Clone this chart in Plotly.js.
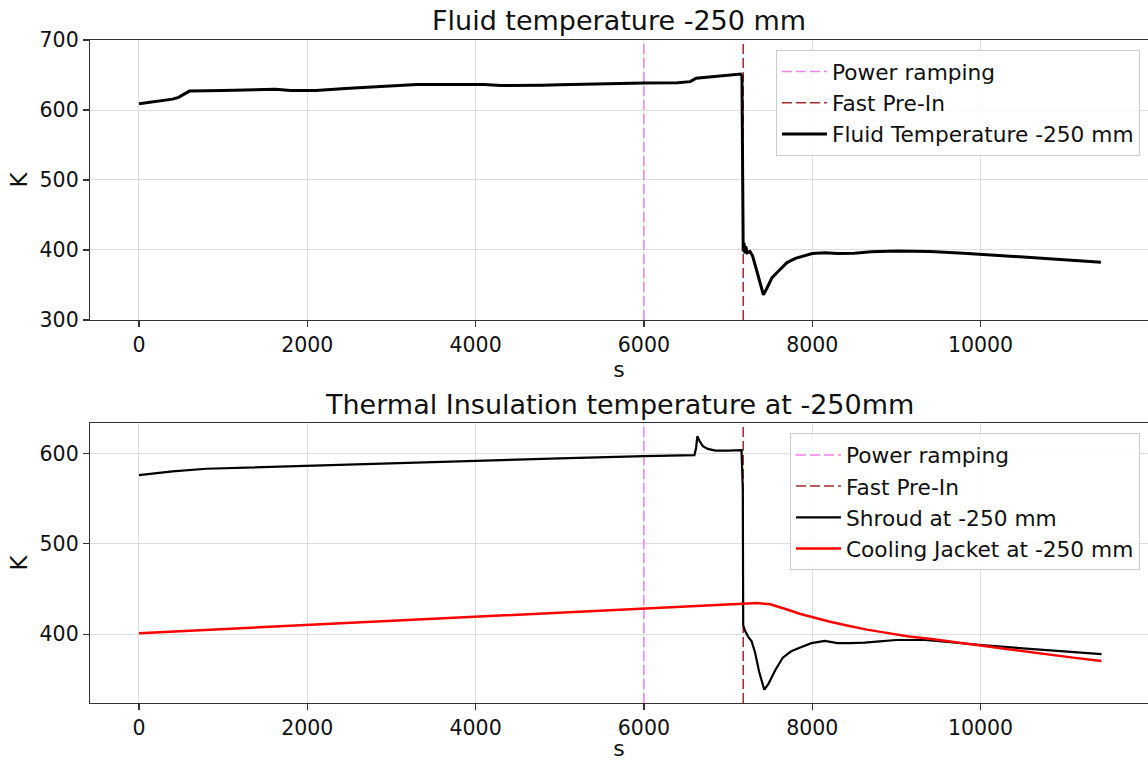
<!DOCTYPE html>
<html><head><meta charset="utf-8">
<script src="https://cdn.plot.ly/plotly-3.0.1.min.js"></script>
<style>html,body{margin:0;padding:0;overflow:hidden;background:#fff}</style>
</head><body><div id="chart" style="width:1148px;height:761px"></div>
<script>
// ---- data ----
const fluidTime = [0,200,400,470,600,1000,1500,1620,1800,2100,2500,3000,3300,3700,4100,4300,4500,4800,5000,5500,6000,6400,6550,6620,6800,7000,7150,7165,7175,7180,7190,7200,7210,7230,7260,7290,7330,7380,7420,7460,7520,7600,7700,7800,7900,8000,8150,8300,8500,8700,9000,9400,9800,10000,10400,10800,11100,11430];
const fluidTemp = [609,612,615.5,618,627,628,628.5,629.5,628,628,631,634.5,636.5,636.5,636.5,635,634.8,635.5,636,637.5,638.5,639,640.5,645.5,647.5,649.5,651.5,649,420,398,410,395,405,396,398,392,375,352,336,345,360,370,382,388,392,395,396,395,395.5,397.5,398.5,398,395.5,394,390.5,387.5,385,382.5];

const shroudTime = [0,200,400,800,1500,2000,3000,4000,5000,6000,6600,6620,6635,6660,6700,6760,6850,7000,7160,7175,7180,7200,7240,7280,7320,7370,7430,7480,7560,7650,7750,7850,7990,8150,8300,8450,8625,8800,9000,9340,9700,10012,10400,10805,11100,11438];
const shroudTemp = [576,578,580,583,585,586,589,591.5,594.5,597,598,606,619,614,608,605,603,603,603.5,560,410,404,397,392,380,358,338.5,345,360,374,381,385,390,392.5,390,390,390.5,392,393.5,393.5,391,388,385,382,380,377.8];

const jacketTime = [0,1000,2000,3000,4000,5000,6000,7000,7200,7350,7500,7600,7710,7850,8003,8200,8426,8650,8902,9150,9417,9700,10012,10400,10805,11100,11438];
const jacketTemp = [401,405.5,410,414.5,419.5,424,428.5,433,434,434.5,433,430.5,427,422.5,418.6,414,409.3,405,401.1,397.5,394.5,391,387.1,382.5,377.8,374,370.4];

const eventNames = ['Power ramping','Fast Pre-In'];
const eventTimes = [6000, 7180];
const eventColors = ['#ee82ee','#a52a2a'];

const xTicks = [0,2000,4000,6000,8000,10000];
const topYTicks = [300,400,500,600,700];
const bottomYTicks = [400,500,600];
const topYRange = [300,700];
const bottomYRange = [323.8,633.6];
const xRange = [-582, 11990];

const titles = ['Fluid temperature -250 mm','Thermal Insulation temperature at -250mm'];

// ---- traces ----
const traces = [];
[['x','y','legend',topYRange],['x2','y2','legend2',bottomYRange]].forEach(([xa,ya,lg,yr])=>{
  eventTimes.forEach((t,i)=>{
    traces.push({x:[t,t], y:yr, xaxis:xa, yaxis:ya, mode:'lines', name:eventNames[i], legend:lg,
      line:{color:eventColors[i], width:1.5, dash:'10px,4px'}, hoverinfo:'skip'});
  });
});
traces.push({x:fluidTime, y:fluidTemp, xaxis:'x', yaxis:'y', mode:'lines', name:'Fluid Temperature -250 mm', legend:'legend', line:{color:'#000', width:3}});
traces.push({x:shroudTime, y:shroudTemp, xaxis:'x2', yaxis:'y2', mode:'lines', name:'Shroud at -250 mm', legend:'legend2', line:{color:'#000', width:2.2}});
traces.push({x:jacketTime, y:jacketTemp, xaxis:'x2', yaxis:'y2', mode:'lines', name:'Cooling Jacket at -250 mm', legend:'legend2', line:{color:'#ff0000', width:2.5}});

const F = 'DejaVu Sans, sans-serif';
function xax(anchor){
  return {anchor:anchor, domain:[0,1], range:xRange, tickvals:xTicks, ticktext:xTicks.map(String),
    showgrid:true, gridcolor:'#dedede', gridwidth:1, zeroline:false,
    showline:true, linecolor:'#333', linewidth:1.2, mirror:true,
    ticks:'outside', ticklen:6, tickcolor:'#333', tickwidth:1.2,
    tickfont:{size:20.5, color:'#111', family:F},
    title:{text:'s', font:{size:22, color:'#111', family:F}, standoff:3}};
}
function yax(anchor, dom, rng, tv){
  return {anchor:anchor, domain:dom, range:rng, tickvals:tv, ticktext:tv.map(String),
    showgrid:true, gridcolor:'#dedede', gridwidth:1, zeroline:false,
    showline:true, linecolor:'#333', linewidth:1.2, mirror:false,
    ticks:'outside', ticklen:6, tickcolor:'#333', tickwidth:1.2,
    tickfont:{size:20.5, color:'#111', family:F},
    title:{text:'K', font:{size:23, color:'#111', family:F}, standoff:5}};
}
function leg(y){
  return {x:0.9924, xanchor:'right', y:y, yanchor:'top', bgcolor:'rgba(255,255,255,0.85)',
    bordercolor:'#cccccc', borderwidth:1, font:{size:21.7, color:'#111', family:F},
    itemwidth:45, traceorder:'normal'};
}
const layout = {
  width:1148, height:761, margin:{l:90, r:0, t:40, b:58, autoexpand:false},
  paper_bgcolor:'#fff', plot_bgcolor:'#fff', font:{family:F, color:'#111'},
  xaxis:xax('y'), yaxis:yax('x',[0.5777,1],topYRange,topYTicks),
  xaxis2:xax('y2'), yaxis2:yax('x2',[0,0.4223],bottomYRange,bottomYTicks),
  legend:leg(0.985), legend2:leg(0.4068),
  showlegend:true,
  annotations:[
    {text:titles[0], xref:'paper', yref:'paper', x:0.5, y:1.030, xanchor:'center', yanchor:'middle', showarrow:false, font:{size:27, color:'#111', family:F}},
    {text:titles[1], xref:'paper', yref:'paper', x:0.5, y:0.4495, xanchor:'center', yanchor:'middle', showarrow:false, font:{size:27, color:'#111', family:F}}
  ]
};
Plotly.newPlot('chart', traces, layout, {displayModeBar:false, staticPlot:true});
</script></body></html>
